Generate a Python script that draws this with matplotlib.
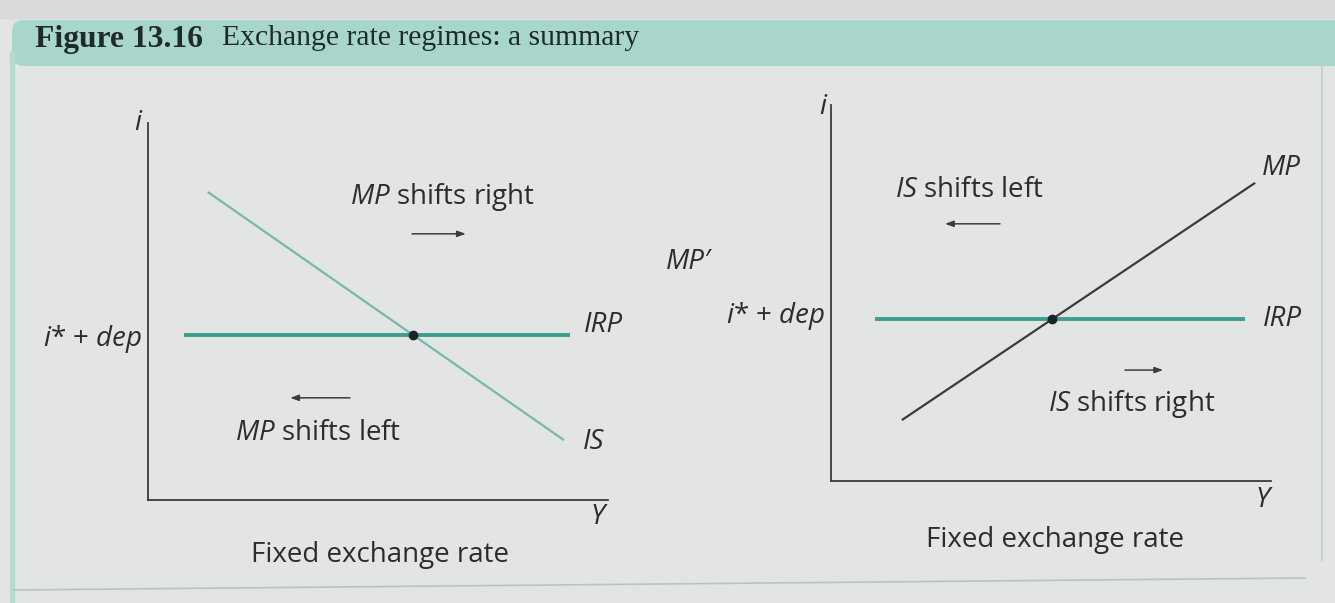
import matplotlib
matplotlib.use("Agg")
import matplotlib.pyplot as plt
from matplotlib.patches import FancyBboxPatch, Rectangle

plt.rcParams["font.family"] = ["Open Sans", "DejaVu Sans"]
plt.rcParams["mathtext.fontset"] = "custom"
plt.rcParams["mathtext.rm"] = "Open Sans"
plt.rcParams["mathtext.it"] = "Open Sans:italic"

# ---- curve definitions (abstract diagram units, 0-100 on each axis) ----
left_is_x = [13.0, 90.4]
left_is_y = [81.7, 15.9]
left_irp_x = [7.8, 91.7]
left_irp_level = 43.8

right_mp_x = [16.1, 96.4]
right_mp_y = [16.2, 79.3]
right_irp_x = [10.0, 94.1]
right_irp_level = 43.1

title_bold = "Figure 13.16"
title_rest = "Exchange rate regimes: a summary"
panel_caption = "Fixed exchange rate"

TEAL = "#3c9e8c"
TEAL_LIGHT = "#74b9aa"
DARK = "#3a3b3d"
TEXT = "#2b2c2e"
BG = "#e3e5e4"
HEADER = "#a9d6ca"

W, H = 1335, 603
fig = plt.figure(figsize=(W / 100, H / 100), dpi=100, facecolor=BG)

# page decoration: header band and panel frame
deco = fig.add_axes([0, 0, 1, 1])
deco.set_xlim(0, W)
deco.set_ylim(H, 0)
deco.axis("off")
deco.add_patch(Rectangle((0, 0), W, 18, color="#d9dbda", zorder=0))
deco.add_patch(FancyBboxPatch((12, 20), W, 46, boxstyle="round,pad=0,rounding_size=12",
                              fc=HEADER, ec="none", zorder=1))
deco.add_patch(Rectangle((10, 52), 4, 560, color="#b3dbd1", zorder=1))
deco.plot([14, 1305], [590, 578], color="#b9c4c1", lw=1.2, zorder=1)
deco.plot([1322, 1322], [66, 560], color="#c2cdca", lw=1.2, zorder=1)
deco.text(35, 40, title_bold, family="Liberation Serif", weight="bold",
          fontsize=22.8, color="#1f2a2a", va="center", ha="left")
deco.text(222, 38, title_rest, family="Liberation Serif",
          fontsize=21.3, color="#1f2a2a", va="center", ha="left")


def setup_axes(ax):
    ax.set_xlim(0, 100)
    ax.set_ylim(0, 100)
    ax.set_facecolor("none")
    for s in ("top", "right"):
        ax.spines[s].set_visible(False)
    for s in ("left", "bottom"):
        ax.spines[s].set_color(DARK)
        ax.spines[s].set_linewidth(1.3)
    ax.set_xticks([])
    ax.set_yticks([])


def intersect_flat(xs, ys, level):
    return xs[0] + (level - ys[0]) * (xs[1] - xs[0]) / (ys[1] - ys[0])


def arrow(ax, x0, x1, y):
    ax.annotate("", xy=(x1, y), xytext=(x0, y),
                arrowprops=dict(arrowstyle="-|>,head_length=0.5,head_width=0.18",
                                color=DARK, lw=1.1, shrinkA=0, shrinkB=0))


FS = 20
IT = dict(fontsize=FS, color=TEXT, fontstyle="italic")
RM = dict(fontsize=FS, color=TEXT)
IDEP = r"$i$* + $dep$"

# ---- left panel ----
axL = fig.add_axes([148 / W, (H - 500) / H, 460 / W, 377 / H])
setup_axes(axL)
axL.plot(left_is_x, left_is_y, color=TEAL_LIGHT, lw=1.6, solid_capstyle="butt")
axL.plot(left_irp_x, [left_irp_level] * 2, color=TEAL, lw=2.8, solid_capstyle="butt")
xe = intersect_flat(left_is_x, left_is_y, left_irp_level)
axL.plot([xe], [left_irp_level], "o", color="#1d2326", ms=6, zorder=5)
axL.text(94.8, left_irp_level + 2.5, "IRP", va="center", **IT)
axL.text(94.6, left_is_y[1] - 0.5, "IS", va="center", **IT)
axL.text(-1.3, left_irp_level - 1, IDEP, va="center", ha="right", **RM)
axL.text(-1.5, 100, "i", va="center", ha="right", **IT)
axL.text(97.8, -4.5, "Y", va="center", ha="center", **IT)
axL.text(63.9, 80.4, r"$MP$ shifts right", va="center", ha="center", **RM)
arrow(axL, 57.4, 69.1, 70.6)
axL.text(37, 17.8, r"$MP$ shifts left", va="center", ha="center", **RM)
arrow(axL, 43.9, 30.9, 27.1)
axL.text(50.4, -14.6, panel_caption, va="center", ha="center", **RM)

# ---- right panel ----
axR = fig.add_axes([831 / W, (H - 481) / H, 440 / W, 376 / H])
setup_axes(axR)
axR.plot(right_mp_x, right_mp_y, color=DARK, lw=1.6, solid_capstyle="butt")
axR.plot(right_irp_x, [right_irp_level] * 2, color=TEAL, lw=2.8, solid_capstyle="butt")
xe = intersect_flat(right_mp_x, right_mp_y, right_irp_level)
axR.plot([xe], [right_irp_level], "o", color="#1d2326", ms=6, zorder=5)
axR.text(98.2, right_irp_level, "IRP", va="center", **IT)
axR.text(98, 83.2, "MP", va="center", **IT)
axR.text(-1.4, right_irp_level + 0.8, IDEP, va="center", ha="right", **RM)
axR.text(-1.0, 99.5, "i", va="center", ha="right", **IT)
axR.text(98, -5, "Y", va="center", ha="center", **IT)
axR.text(-32.5, 58.2, "MP\u2032", va="center", ha="center", **IT)
axR.text(31.4, 77.4, r"$IS$ shifts left", va="center", ha="center", **RM)
arrow(axR, 38.4, 25.9, 68.4)
axR.text(68.4, 20.5, r"$IS$ shifts right", va="center", ha="center", **RM)
arrow(axR, 66.8, 75.5, 29.5)
axR.text(50.9, -15.7, panel_caption, va="center", ha="center", **RM)

fig.savefig("out.png", dpi=100, facecolor=BG)
